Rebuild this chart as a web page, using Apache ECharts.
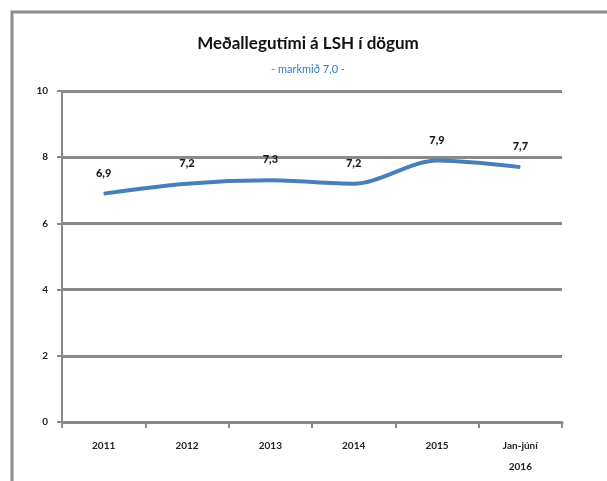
<!DOCTYPE html>
<html lang="is">
<head>
    <meta charset="UTF-8">
    <title>Meðallegutími á LSH</title>
    <script src="https://cdn.jsdelivr.net/npm/echarts@6/dist/echarts.min.js"></script>
    <style>
        html, body { margin: 0; padding: 0; background: #fff; }
        #chart { width: 607px; height: 481px; }
    </style>
</head>
<body>
    <div id="chart"></div>
    <script>
        // gögn
        var categories = ["2011", "2012", "2013", "2014", "2015", "Jan-júní\n2016"];
        var values = [6.9, 7.2, 7.3, 7.2, 7.9, 7.7];
        var yTicks = [0, 2, 4, 6, 8, 10];

        var fontFam = "Lato, 'Open Sans', sans-serif";
        var myChart = echarts.init(document.getElementById("chart"));

        var option = {
            backgroundColor: "#fff",
            animation: false,
            graphic: [{
                type: "rect",
                shape: { x: 12, y: 12, width: 620, height: 500 },
                style: { fill: "none", stroke: "#8c8c8c", lineWidth: 3 }
            }],
            title: {
                text: "Meðallegutími á LSH í dögum",
                subtext: "- markmið 7,0 -",
                left: 303,
                textAlign: "center",
                top: 30,
                itemGap: 12,
                textStyle: { fontFamily: fontFam, fontSize: 17, fontWeight: "bold", color: "#111" },
                subtextStyle: { fontFamily: fontFam, fontSize: 11, color: "#3a78b8" }
            },
            grid: { left: 62, right: 45, top: 91, bottom: 59, containLabel: false },
            xAxis: {
                type: "category",
                data: categories,
                boundaryGap: true,
                axisLine: { lineStyle: { color: "#8a8a8a", width: 3 } },
                axisTick: { show: true, length: 6, lineStyle: { color: "#8a8a8a", width: 2 } },
                axisLabel: {
                    fontFamily: fontFam, fontSize: 10, fontWeight: "bold", color: "#222",
                    margin: 13, lineHeight: 21, interval: 0
                }
            },
            yAxis: {
                type: "value",
                min: yTicks[0],
                max: yTicks[yTicks.length - 1],
                interval: 2,
                axisLine: { show: true, lineStyle: { color: "#8a8a8a", width: 2 } },
                axisTick: { show: true, length: 5, lineStyle: { color: "#8a8a8a", width: 2 } },
                splitLine: { lineStyle: { color: "#8a8a8a", width: 3 } },
                axisLabel: { fontFamily: fontFam, fontSize: 10, fontWeight: "bold", color: "#222", margin: 14 }
            },
            series: [{
                type: "line",
                data: values,
                smooth: 0.3,
                showSymbol: true,
                symbol: "circle",
                symbolSize: 2,
                itemStyle: { color: "rgba(74,126,187,0)" },
                lineStyle: { color: "#4a7ebb", width: 4 },
                label: {
                    show: true,
                    position: "top",
                    distance: 14,
                    fontFamily: fontFam, fontSize: 11, fontWeight: 900, color: "#1a1a1a",
                    formatter: function (p) { return p.value.toFixed(1).replace(".", ","); }
                }
            }]
        };
        myChart.setOption(option);
    </script>
</body>
</html>
